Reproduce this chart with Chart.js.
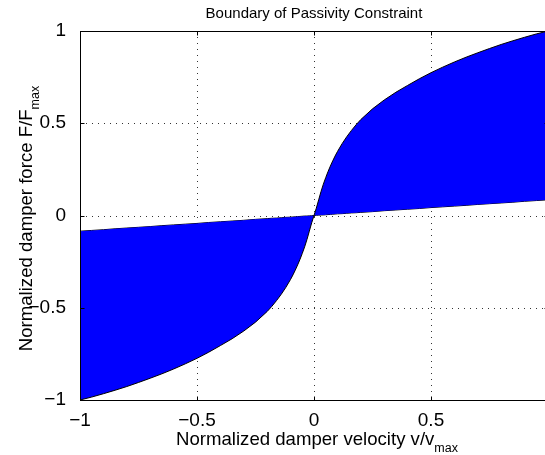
<!DOCTYPE html>
<html><head><meta charset="utf-8">
<script src="https://cdn.jsdelivr.net/npm/chart.js@4/dist/chart.umd.min.js"></script>
<style>
html,body{margin:0;padding:0;background:#fff;overflow:hidden;width:545px;height:455px}
#wrap{position:absolute;left:0;top:0;width:560px;height:455px}
</style>
</head><body><div id="wrap"><canvas id="c" width="560" height="455"></canvas></div>
<script>
// Normalized damper velocity v/vmax
const velocity = [-1, -0.95, -0.9, -0.85, -0.8, -0.75, -0.7, -0.65, -0.6, -0.55, -0.5, -0.45, -0.4, -0.35, -0.3, -0.25, -0.2, -0.18, -0.16, -0.14, -0.12, -0.1, -0.09, -0.08, -0.07, -0.06, -0.05, -0.04, -0.03, -0.02, -0.01, 0,
                  0.01, 0.02, 0.03, 0.04, 0.05, 0.06, 0.07, 0.08, 0.09, 0.1, 0.12, 0.14, 0.16, 0.18, 0.2, 0.25, 0.3, 0.35, 0.4, 0.45, 0.5, 0.55, 0.6, 0.65, 0.7, 0.75, 0.8, 0.85, 0.9, 0.95, 1];
// Curved boundary of the passive region (F/Fmax)
const upperForce = [-1.0, -0.984, -0.966, -0.947, -0.927, -0.905, -0.882, -0.858, -0.832, -0.804, -0.774, -0.741, -0.705, -0.668, -0.626, -0.578, -0.52, -0.492, -0.461, -0.427, -0.389, -0.346, -0.322, -0.296, -0.268, -0.238, -0.205, -0.17, -0.13, -0.085, -0.04, 0,
                    0.04, 0.085, 0.13, 0.17, 0.205, 0.238, 0.268, 0.296, 0.322, 0.346, 0.389, 0.427, 0.461, 0.492, 0.52, 0.578, 0.626, 0.668, 0.705, 0.741, 0.774, 0.804, 0.832, 0.858, 0.882, 0.905, 0.927, 0.947, 0.966, 0.984, 1.0];
// Straight (minimum damping) boundary (F/Fmax)
const lowerForce = [-0.085, -0.081, -0.077, -0.072, -0.068, -0.064, -0.06, -0.055, -0.051, -0.047, -0.043, -0.038, -0.034, -0.03, -0.026, -0.021, -0.017, -0.015, -0.014, -0.012, -0.01, -0.009, -0.008, -0.007, -0.006, -0.005, -0.004, -0.003, -0.003, -0.002, -0.001, 0,
                    0.001, 0.002, 0.003, 0.003, 0.004, 0.005, 0.006, 0.007, 0.008, 0.009, 0.01, 0.012, 0.014, 0.015, 0.017, 0.021, 0.026, 0.03, 0.034, 0.038, 0.043, 0.047, 0.051, 0.055, 0.06, 0.064, 0.068, 0.072, 0.077, 0.081, 0.085];
const xTickValues = [-1, -0.5, 0, 0.5];
const yTickValues = [-1, -0.5, 0, 0.5, 1];
const xGridValues = [-0.5, 0, 0.5];
const yGridValues = [-0.5, 0, 0.5];

const titleText = 'Boundary of Passivity Constraint';
const xLabelMain = 'Normalized damper velocity v/v';
const xLabelSub = 'max';
const yLabelMain = 'Normalized damper force F/F';
const yLabelSub = 'max';

const FONT = '"Liberation Sans", Arial, Helvetica, sans-serif';
const minus = v => String(v).replace('-', '\u2212');

const overlay = {
  id: 'overlay',
  beforeDraw(chart) {
    const {ctx, chartArea: a, scales: {x, y}} = chart;
    ctx.save();
    ctx.fillStyle = '#fff';
    ctx.fillRect(0, 0, chart.width, chart.height);
    ctx.strokeStyle = '#333';
    ctx.lineWidth = 1;
    ctx.setLineDash([1, 5]);
    xGridValues.forEach(v => {
      const px = Math.round(x.getPixelForValue(v)) + 0.5;
      ctx.beginPath(); ctx.moveTo(px, a.top); ctx.lineTo(px, a.bottom); ctx.stroke();
    });
    yGridValues.forEach(v => {
      const py = Math.round(y.getPixelForValue(v)) + 0.5;
      ctx.beginPath(); ctx.moveTo(a.left, py); ctx.lineTo(a.right, py); ctx.stroke();
    });
    ctx.restore();
  },
  afterDatasetsDraw(chart) {
    const {ctx, chartArea: a, scales: {x, y}} = chart;
    ctx.save();
    ctx.strokeStyle = '#000';
    ctx.lineWidth = 1;
    const L = Math.round(a.left) + 0.5, R = Math.round(a.right) + 0.5;
    const T = Math.round(a.top) + 0.5, B = Math.round(a.bottom) + 0.5;
    ctx.strokeRect(L, T, R - L, B - T);
    const tl = 4;
    ctx.beginPath();
    xTickValues.forEach(v => {
      const px = Math.round(x.getPixelForValue(v)) + 0.5;
      ctx.moveTo(px, B); ctx.lineTo(px, B - tl);
      ctx.moveTo(px, T); ctx.lineTo(px, T + tl);
    });
    yTickValues.forEach(v => {
      const py = Math.round(y.getPixelForValue(v)) + 0.5;
      ctx.moveTo(L, py); ctx.lineTo(L + tl, py);
      ctx.moveTo(R, py); ctx.lineTo(R - tl, py);
    });
    ctx.stroke();
    ctx.restore();
  },
  afterDraw(chart) {
    const {ctx, chartArea: a} = chart;
    ctx.save();
    ctx.fillStyle = '#000';
    ctx.textBaseline = 'alphabetic';
    // title
    ctx.font = '15px ' + FONT;
    ctx.textAlign = 'center';
    ctx.fillText(titleText, (a.left + a.right) / 2, 18);
    ctx.textAlign = 'left';
    const big = '18.6px ', small = '12.5px ';
    // x label
    ctx.font = big + FONT;
    const xm = ctx.measureText(xLabelMain).width;
    ctx.font = small + FONT;
    const xs = ctx.measureText(xLabelSub).width;
    const cx = (a.left + a.right) / 2 + 3;
    const x0 = cx - (xm + xs) / 2;
    ctx.font = big + FONT;
    ctx.fillText(xLabelMain, x0, 445);
    ctx.font = small + FONT;
    ctx.fillText(xLabelSub, x0 + xm, 452);
    // y label
    ctx.font = big + FONT;
    const ym = ctx.measureText(yLabelMain).width;
    ctx.font = small + FONT;
    const ys = ctx.measureText(yLabelSub).width;
    ctx.translate(32, (a.top + a.bottom) / 2 + 3);
    ctx.rotate(-Math.PI / 2);
    const y0 = -(ym + ys) / 2;
    ctx.font = big + FONT;
    ctx.fillText(yLabelMain, y0, 0);
    ctx.font = small + FONT;
    ctx.fillText(yLabelSub, y0 + ym, 7);
    ctx.restore();
  }
};

new Chart(document.getElementById('c'), {
  type: 'line',
  data: {
    datasets: [
      {
        data: velocity.map((v, i) => ({x: v, y: upperForce[i]})),
        borderColor: '#000', borderWidth: 1, backgroundColor: '#0000ff',
        fill: '+1', pointRadius: 0, tension: 0
      },
      {
        data: velocity.map((v, i) => ({x: v, y: lowerForce[i]})),
        borderColor: '#000', borderWidth: 1, backgroundColor: '#0000ff',
        fill: false, pointRadius: 0, tension: 0
      }
    ]
  },
  options: {
    responsive: false,
    animation: false,
    layout: {padding: {left: 0, right: 12, top: 31, bottom: 0}},
    plugins: {legend: {display: false}, title: {display: false}, tooltip: {enabled: false}},
    scales: {
      x: {
        type: 'linear', min: -1, max: 1,
        afterBuildTicks: s => { s.ticks = xTickValues.map(v => ({value: v})); },
        afterFit: s => { s.height = 55; },
        grid: {display: false}, border: {display: false},
        ticks: {font: {family: FONT, size: 19}, color: '#000', padding: 1, maxRotation: 0, autoSkip: false,
                callback: v => minus(v)}
      },
      y: {
        type: 'linear', min: -1, max: 1,
        afterBuildTicks: s => { s.ticks = yTickValues.map(v => ({value: v})); },
        afterFit: s => { s.width = 80; },
        grid: {display: false}, border: {display: false},
        ticks: {font: {family: FONT, size: 19}, color: '#000', padding: 6, autoSkip: false,
                callback: v => minus(v)}
      }
    }
  },
  plugins: [overlay]
});
</script>
</body></html>
